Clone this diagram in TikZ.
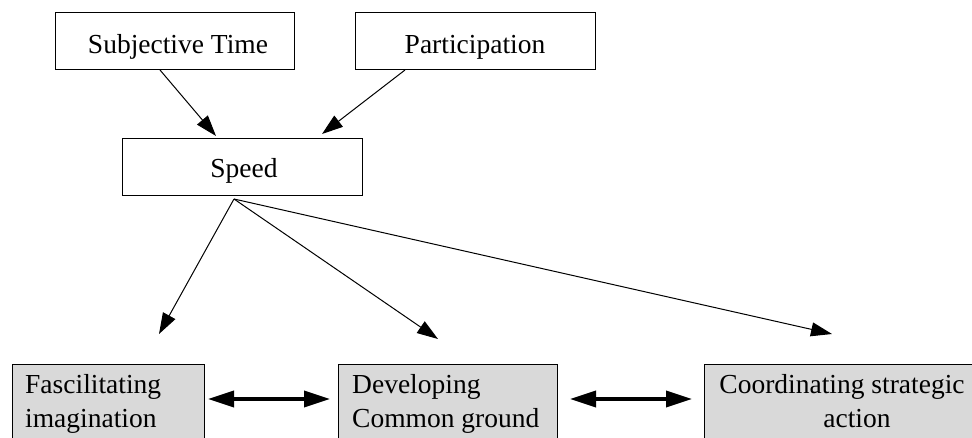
\documentclass[tikz,border=0pt]{standalone}
\usepackage{fontspec}
\setmainfont{Liberation Serif}
\usetikzlibrary{arrows.meta}
\begin{document}
\begin{tikzpicture}[x=1pt,y=-1pt,
  box/.style={draw, line width=1pt, inner sep=0pt, anchor=north west},
  gbox/.style={box, fill=gray!30},
  lbl/.style={anchor=base, inner sep=0pt, font=\fontsize{27.5}{32}\selectfont},
  lbll/.style={lbl, anchor=base west},
  arr/.style={-{Triangle[length=21pt 0,width=14pt 0]}, line width=1pt},
  dbl/.style={{Triangle[length=26pt 0,width=16pt 0]}-{Triangle[length=26pt 0,width=16pt 0]}, line width=3.5pt}]
\useasboundingbox (0,0) rectangle (972,437);
\clip (0,0) rectangle (972,437);
% boxes
\node[box, minimum width=239pt, minimum height=57pt] (st) at (55,12) {};
\node[box, minimum width=240pt, minimum height=57pt] (pa) at (355,12) {};
\node[box, minimum width=240pt, minimum height=57pt] (sp) at (122,138) {};
\node[gbox, minimum width=192pt, minimum height=90pt] (fi) at (12,364) {};
\node[gbox, minimum width=219pt, minimum height=90pt] (dc) at (338,364) {};
\node[gbox, minimum width=300pt, minimum height=90pt] (cs) at (704,364) {};
% labels
\node[lbl] (tst) at (178,53) {Subjective Time};
\node[lbl] (tpa) at (475,53) {Participation};
\node[lbl] (tsp) at (244,177) {Speed};
\node[lbll] (tfi1) at (25,393) {Fascilitating};
\node[lbll] (tfi2) at (25,427) {imagination};
\node[lbll] (tdc1) at (352,393) {Developing};
\node[lbll] (tdc2) at (352,427) {Common ground};
\node[lbl] (tcs1) at (842,393) {Coordinating strategic};
\node[lbl] (tcs2) at (857,427) {action};
% free ends
\coordinate (e1) at (159,334);
\coordinate (e2) at (438,339);
\coordinate (e3) at (832,334);
% connectors
\draw[arr] ([xshift=105pt]st.south west) -- ([xshift=94pt,yshift=2pt]sp.north west);
\draw[arr] ([xshift=50pt]pa.south west) -- ([xshift=200pt,yshift=4pt]sp.north west);
\coordinate (o) at ([xshift=112pt,yshift=-3pt]sp.south west);
\draw[arr] (o) -- (e1);
\draw[arr] (o) -- (e2);
\draw[arr] (o) -- (e3);
\draw[dbl] ([xshift=3pt,yshift=-35pt]fi.north east) -- ([xshift=-8pt,yshift=-35pt]dc.north west);
\draw[dbl] ([xshift=12pt,yshift=-35pt]dc.north east) -- ([xshift=-12pt,yshift=-35pt]cs.north west);
\end{tikzpicture}
\end{document}
